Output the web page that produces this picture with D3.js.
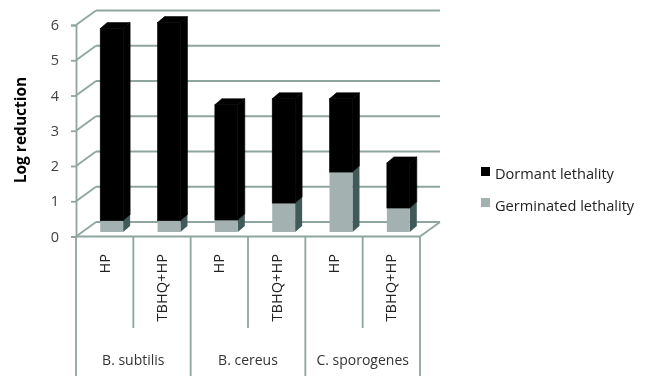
<!DOCTYPE html>
<html>
<head>
<meta charset="utf-8">
<script src="https://cdn.jsdelivr.net/npm/d3@7"></script>
<style>
  html, body { margin: 0; padding: 0; background: #fff; }
  svg { display: block; filter: blur(0.35px); }
  text { font-family: "Open Sans", "Noto Sans", sans-serif; }
</style>
</head>
<body>
<div id="chart"></div>
<script>
// values
const treatments = ['HP', 'TBHQ+HP', 'HP', 'TBHQ+HP', 'HP', 'TBHQ+HP']
const species = ['B. subtilis', 'B. cereus', 'C. sporogenes']
const germinated = [0.32, 0.32, 0.34, 0.82, 1.7, 0.68]
const dormant = [5.45, 5.62, 3.27, 2.96, 2.08, 1.28]
const yTicks = [0, 1, 2, 3, 4, 5, 6]
const seriesNames = ['Dormant lethality', 'Germinated lethality']
const seriesColors = ['#000000', '#a3b1b0']
const seriesSide = ['#000000', '#3f5a59']

const WIDTH = 645
const HEIGHT = 376
const LEFT = 76
const RIGHT = 420
const Y_ZERO = 236.5
const Y_TOP = 25
const DEPTH_X = 20
const DEPTH_Y = 14.5
const BAR_DX = 7
const BAR_DY = 5
const GRID = '#8ea5a0'

const svg = d3.select('#chart').append('svg')
    .attr('width', WIDTH)
    .attr('height', HEIGHT)

const x = d3.scaleBand()
    .domain(d3.range(treatments.length))
    .range([LEFT, RIGHT])
    .paddingInner(0.6)
    .paddingOuter(0.3)

const y = d3.scaleLinear()
    .domain([0, 6])
    .range([Y_ZERO, Y_TOP])

// walls: back gridlines and the slanted lines on the left wall
const grid = svg.append('g').attr('fill', 'none').attr('stroke', GRID).attr('stroke-width', 1.8)

grid.selectAll('line.back')
    .data(yTicks)
    .join('line')
    .attr('class', 'back')
    .attr('x1', LEFT + DEPTH_X)
    .attr('x2', RIGHT + DEPTH_X)
    .attr('y1', d => y(d) - DEPTH_Y)
    .attr('y2', d => y(d) - DEPTH_Y)

grid.selectAll('line.side')
    .data(yTicks)
    .join('line')
    .attr('class', 'side')
    .attr('x1', LEFT)
    .attr('x2', LEFT + DEPTH_X)
    .attr('y1', d => y(d))
    .attr('y2', d => y(d) - DEPTH_Y)

grid.append('line')
    .attr('x1', RIGHT).attr('x2', RIGHT + DEPTH_X)
    .attr('y1', y(0)).attr('y2', y(0) - DEPTH_Y)

// bars, stacked from the floor, each with a front, a side and a top
const base = y(0) - 4.5
const h = v => y(0) - y(v)

const stacks = treatments.map((t, i) => [
    { i, s: 1, from: 0, to: germinated[i] },
    { i, s: 0, from: germinated[i], to: germinated[i] + dormant[i] }
]).flat()

const bars = svg.append('g')
const bar = bars.selectAll('g')
    .data(stacks)
    .join('g')

// black faces get a same colour outline so no seam shows between them
const seam = d => d.s === 0 ? '#000' : 'none'

bar.append('path')
    .attr('fill', d => seriesSide[d.s])
    .attr('stroke', seam)
    .attr('stroke-width', 0.6)
    .attr('d', d => {
        const xr = x(d.i) + BAR_DX + x.bandwidth()
        const y0 = base - h(d.from)
        const y1 = base - h(d.to)
        return `M${xr},${y0}L${xr + BAR_DX},${y0 - BAR_DY - 1}L${xr + BAR_DX},${y1 - BAR_DY - 1}L${xr},${y1}Z`
    })

bar.filter(d => d.s === 0).append('path')
    .attr('fill', d => seriesColors[d.s])
    .attr('stroke', seam)
    .attr('stroke-width', 0.6)
    .attr('d', d => {
        const xl = x(d.i) + BAR_DX
        const y1 = base - h(d.to)
        const w = x.bandwidth()
        return `M${xl},${y1}L${xl + BAR_DX},${y1 - BAR_DY - 1}L${xl + w + BAR_DX},${y1 - BAR_DY - 1}L${xl + w},${y1}Z`
    })

bar.append('rect')
    .attr('fill', d => seriesColors[d.s])
    .attr('stroke', seam)
    .attr('stroke-width', 0.6)
    .attr('x', d => x(d.i) + BAR_DX)
    .attr('width', x.bandwidth())
    .attr('y', d => base - h(d.to))
    .attr('height', d => h(d.to) - h(d.from))

// value axis
const yAxis = d3.axisLeft(y).tickValues(yTicks).tickSize(5).tickPadding(12).tickFormat(d3.format('d'))
const yG = svg.append('g')
    .attr('transform', `translate(${LEFT},0)`)
    .call(yAxis)
yG.selectAll('line, path').attr('stroke', GRID).attr('stroke-width', 1.8)
yG.selectAll('text')
    .attr('fill', '#404040')
    .style('font-size', '14.5px')
    .style('font-family', '"Open Sans", sans-serif')

svg.append('text')
    .text('Log reduction')
    .attr('transform', `translate(26,130)rotate(-90)`)
    .attr('text-anchor', 'middle')
    .attr('font-weight', 700)
    .attr('font-size', 15.5)
    .attr('fill', '#000')

// category table under the floor
const band = (RIGHT - LEFT) / treatments.length
const table = svg.append('g').attr('stroke', GRID).attr('stroke-width', 1.8)

table.append('line')
    .attr('x1', LEFT).attr('x2', RIGHT)
    .attr('y1', y(0)).attr('y2', y(0))

table.selectAll('line.div')
    .data(d3.range(treatments.length + 1))
    .join('line')
    .attr('class', 'div')
    .attr('x1', d => LEFT + d * band)
    .attr('x2', d => LEFT + d * band)
    .attr('y1', y(0))
    .attr('y2', d => d % 2 === 0 ? HEIGHT : 328)

svg.append('g').selectAll('text')
    .data(treatments)
    .join('text')
    .text(d => d)
    .attr('transform', (d, i) => `translate(${LEFT + (i + 0.5) * band + 5},254)rotate(-90)`)
    .attr('text-anchor', 'end')
    .attr('font-size', 14.6)
    .attr('fill', '#222')

svg.append('g').selectAll('text')
    .data(species)
    .join('text')
    .text(d => d)
    .attr('x', (d, i) => LEFT + (i * 2 + 1) * band)
    .attr('y', 365)
    .attr('text-anchor', 'middle')
    .attr('font-size', 14)
    .attr('fill', '#333')

// legend
const legend = svg.append('g')
    .selectAll('g')
    .data(seriesNames)
    .join('g')
    .attr('transform', (d, i) => `translate(481,${167 + i * 31})`)

legend.append('rect')
    .attr('width', 9)
    .attr('height', 9)
    .attr('fill', (d, i) => seriesColors[i])

legend.append('text')
    .text(d => d)
    .attr('x', 14)
    .attr('y', (d, i) => 12 + i)
    .attr('font-size', 14.6)
    .attr('fill', '#222')
</script>
</body>
</html>
